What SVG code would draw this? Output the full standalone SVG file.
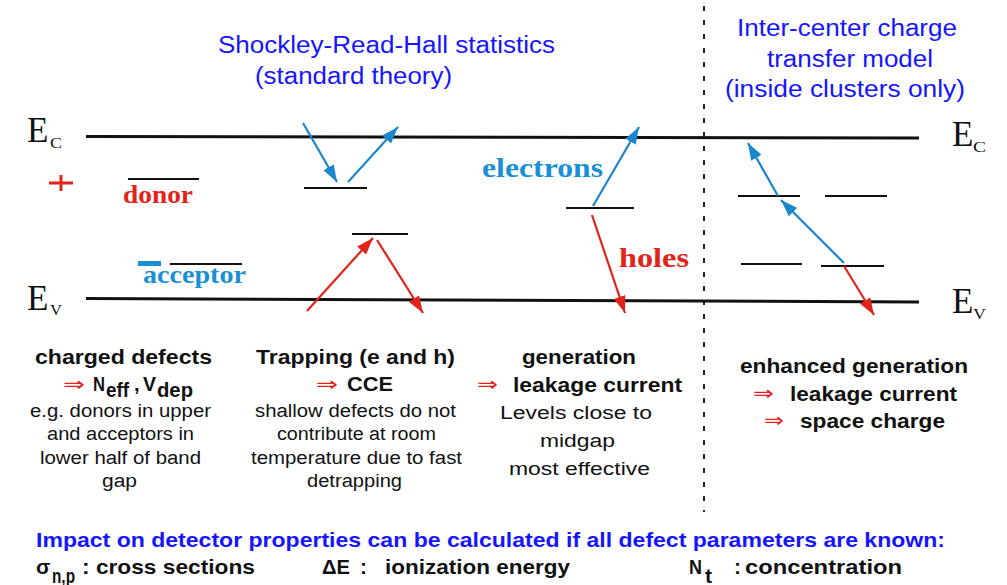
<svg xmlns="http://www.w3.org/2000/svg" width="1007" height="585" viewBox="0 0 1007 585">
<style>
.band{stroke:#111;stroke-width:3;fill:none}
.lvl{stroke:#111;stroke-width:2.2;fill:none}
.ser{font-family:"Liberation Serif",serif;fill:#111}
.lab{font-family:"Liberation Serif",serif;font-weight:bold}
.ttl{font-family:"Liberation Sans",Arial,sans-serif;fill:#1515ff;font-size:23px}
.b{font-family:"Liberation Sans",Arial,sans-serif;font-weight:bold;fill:#111;font-size:20px}
.r{font-family:"Liberation Sans",Arial,sans-serif;fill:#111;font-size:18px}
.imp{font-family:"Liberation Sans",Arial,sans-serif;font-weight:bold;fill:#111;font-size:21px}
.arr{font-family:"DejaVu Sans",sans-serif;fill:#e8201a;font-size:20px}
.ab{stroke:#1b86c9;stroke-width:2.2;fill:none;marker-end:url(#mb)}
.ar{stroke:#e2231a;stroke-width:2.2;fill:none;marker-end:url(#mr)}
</style>
<defs>
<marker id="mb" viewBox="0 0 17 12" refX="17" refY="6" markerWidth="17" markerHeight="12" orient="auto" markerUnits="userSpaceOnUse"><path d="M0,0 L17,6 L0,12 z" fill="#1b86c9"/></marker>
<marker id="mr" viewBox="0 0 17 12" refX="17" refY="6" markerWidth="17" markerHeight="12" orient="auto" markerUnits="userSpaceOnUse"><path d="M0,0 L17,6 L0,12 z" fill="#e2231a"/></marker>
</defs>
<rect width="1007" height="585" fill="#fff"/>

<g id="titles">
<text class="ttl" x="218" y="53" textLength="337" lengthAdjust="spacingAndGlyphs">Shockley-Read-Hall statistics</text>
<text class="ttl" x="255" y="84" textLength="197" lengthAdjust="spacingAndGlyphs">(standard theory)</text>
<text class="ttl" x="737" y="36" textLength="220" lengthAdjust="spacingAndGlyphs">Inter-center charge</text>
<text class="ttl" x="767" y="67" textLength="166" lengthAdjust="spacingAndGlyphs">transfer model</text>
<text class="ttl" x="725" y="97" textLength="240" lengthAdjust="spacingAndGlyphs">(inside clusters only)</text>
</g>

<g id="divider">
<line x1="704" y1="6" x2="704" y2="512" stroke="#222" stroke-width="2" stroke-dasharray="5 9"/>
</g>

<g id="bands">
<line class="band" x1="86" y1="136.5" x2="919" y2="138"/>
<line class="band" x1="86" y1="298.5" x2="919" y2="302"/>
<text class="ser" x="27" y="142" font-size="35">E</text>
<text class="ser" x="50" y="148" font-size="14" textLength="12" lengthAdjust="spacingAndGlyphs">C</text>
<text class="ser" x="27" y="310" font-size="35">E</text>
<text class="ser" x="50" y="315" font-size="14" textLength="12" lengthAdjust="spacingAndGlyphs">V</text>
<text class="ser" x="952" y="146" font-size="35">E</text>
<text class="ser" x="973" y="152" font-size="14" textLength="13" lengthAdjust="spacingAndGlyphs">C</text>
<text class="ser" x="952" y="313" font-size="35">E</text>
<text class="ser" x="973" y="319" font-size="14" textLength="13" lengthAdjust="spacingAndGlyphs">V</text>
</g>

<g id="donor">
<path d="M49,183 H73 M61,175 V191" stroke="#e2231a" stroke-width="3" fill="none"/>
<line class="lvl" x1="128" y1="179" x2="199" y2="179"/>
<text class="lab" x="123" y="203" font-size="26" fill="#e2231a" textLength="70" lengthAdjust="spacingAndGlyphs">donor</text>
</g>

<g id="acceptor">
<rect x="138" y="261" width="23" height="5" fill="#1b8fd6"/>
<line class="lvl" x1="170" y1="264" x2="242" y2="264"/>
<text class="lab" x="143" y="283" font-size="26" fill="#1b8fd6" textLength="103" lengthAdjust="spacingAndGlyphs">acceptor</text>
</g>

<g id="srh-levels">
<line class="lvl" x1="304" y1="188" x2="367" y2="188" stroke-width="3"/>
<line class="lvl" x1="352" y1="234" x2="408" y2="234"/>
</g>

<g id="generation-level">
<line class="lvl" x1="566" y1="208" x2="634" y2="208"/>
<text class="lab" x="482" y="177" font-size="28" fill="#1b8fd6" textLength="121" lengthAdjust="spacingAndGlyphs">electrons</text>
<text class="lab" x="619" y="267" font-size="28" fill="#e2231a" textLength="70" lengthAdjust="spacingAndGlyphs">holes</text>
</g>

<g id="cluster-levels">
<line class="lvl" x1="738" y1="196" x2="800" y2="196" stroke-width="3"/>
<line class="lvl" x1="825" y1="196" x2="887" y2="196" stroke-width="3"/>
<line class="lvl" x1="741" y1="264" x2="802" y2="264"/>
<line class="lvl" x1="821" y1="266" x2="884" y2="266" stroke-width="3"/>
</g>

<g id="connectors">
<line class="ab" x1="303" y1="123" x2="337" y2="182"/>
<line class="ab" x1="348" y1="182" x2="398" y2="127"/>
<line class="ar" x1="307" y1="311" x2="373" y2="238"/>
<line class="ar" x1="377" y1="240" x2="423" y2="313"/>
<line class="ab" x1="593" y1="206" x2="639" y2="127"/>
<line class="ar" x1="592" y1="215" x2="625" y2="313"/>
<line class="ab" x1="778" y1="196" x2="748" y2="143"/>
<line class="ab" x1="844" y1="263" x2="781" y2="200"/>
<line class="ar" x1="844" y1="266" x2="874" y2="315"/>
</g>

<g id="col-charged">
<text class="b" x="35" y="364" textLength="177" lengthAdjust="spacingAndGlyphs">charged defects</text>
<text class="arr" x="63" y="391" textLength="22" lengthAdjust="spacingAndGlyphs">⇒</text>
<text class="b" x="93" y="391" textLength="12" lengthAdjust="spacingAndGlyphs">N</text>
<text class="b" x="106" y="397" font-size="14" textLength="23" lengthAdjust="spacingAndGlyphs">eff</text>
<text class="b" x="134" y="391">,</text>
<text class="b" x="143" y="391" textLength="13" lengthAdjust="spacingAndGlyphs">V</text>
<text class="b" x="157" y="397" font-size="14" textLength="36" lengthAdjust="spacingAndGlyphs">dep</text>
<text class="r" x="30" y="417" textLength="181" lengthAdjust="spacingAndGlyphs">e.g. donors in upper</text>
<text class="r" x="47" y="440" textLength="147" lengthAdjust="spacingAndGlyphs">and acceptors in</text>
<text class="r" x="40" y="464" textLength="161" lengthAdjust="spacingAndGlyphs">lower half of band</text>
<text class="r" x="102" y="487" textLength="35" lengthAdjust="spacingAndGlyphs">gap</text>
</g>

<g id="col-trapping">
<text class="b" x="256" y="364" textLength="199" lengthAdjust="spacingAndGlyphs">Trapping (e and h)</text>
<text class="arr" x="316" y="391" textLength="22" lengthAdjust="spacingAndGlyphs">⇒</text>
<text class="b" x="347" y="391" textLength="46" lengthAdjust="spacingAndGlyphs">CCE</text>
<text class="r" x="255" y="417" textLength="201" lengthAdjust="spacingAndGlyphs">shallow defects do not</text>
<text class="r" x="277" y="440" textLength="159" lengthAdjust="spacingAndGlyphs">contribute at room</text>
<text class="r" x="251" y="464" textLength="211" lengthAdjust="spacingAndGlyphs">temperature due to fast</text>
<text class="r" x="307" y="487" textLength="95" lengthAdjust="spacingAndGlyphs">detrapping</text>
</g>

<g id="col-generation">
<text class="b" x="522" y="364" textLength="114" lengthAdjust="spacingAndGlyphs">generation</text>
<text class="arr" x="477" y="391" textLength="21" lengthAdjust="spacingAndGlyphs">⇒</text>
<text class="b" x="513" y="392" textLength="169" lengthAdjust="spacingAndGlyphs">leakage current</text>
<text class="r" x="500" y="419" textLength="152" lengthAdjust="spacingAndGlyphs">Levels close to</text>
<text class="r" x="540" y="447" textLength="75" lengthAdjust="spacingAndGlyphs">midgap</text>
<text class="r" x="509" y="475" textLength="141" lengthAdjust="spacingAndGlyphs">most effective</text>
</g>

<g id="col-enhanced">
<text class="b" x="740" y="373" textLength="228" lengthAdjust="spacingAndGlyphs">enhanced generation</text>
<text class="arr" x="753" y="400" textLength="21" lengthAdjust="spacingAndGlyphs">⇒</text>
<text class="b" x="790" y="401" textLength="167" lengthAdjust="spacingAndGlyphs">leakage current</text>
<text class="arr" x="764" y="427" textLength="20" lengthAdjust="spacingAndGlyphs">⇒</text>
<text class="b" x="800" y="428" textLength="145" lengthAdjust="spacingAndGlyphs">space charge</text>
</g>

<g id="impact">
<text class="imp" x="36" y="547" style="fill:#1515ff" textLength="909" lengthAdjust="spacingAndGlyphs">Impact on detector properties can be calculated if all defect parameters are known:</text>
<text class="imp" x="36" y="574">σ</text>
<text class="imp" x="52" y="583" font-size="14" textLength="23" lengthAdjust="spacingAndGlyphs">n,p</text>
<text class="imp" x="82" y="574" textLength="173" lengthAdjust="spacingAndGlyphs">: cross sections</text>
<text class="imp" x="322" y="574" textLength="28" lengthAdjust="spacingAndGlyphs">ΔE</text>
<text class="imp" x="360" y="574">:</text>
<text class="imp" x="385" y="574" textLength="185" lengthAdjust="spacingAndGlyphs">ionization energy</text>
<text class="imp" x="689" y="574" textLength="13" lengthAdjust="spacingAndGlyphs">N</text>
<text class="imp" x="705" y="583" font-size="13">t</text>
<text class="imp" x="734" y="574">:</text>
<text class="imp" x="745" y="574" textLength="157" lengthAdjust="spacingAndGlyphs">concentration</text>
</g>
</svg>
